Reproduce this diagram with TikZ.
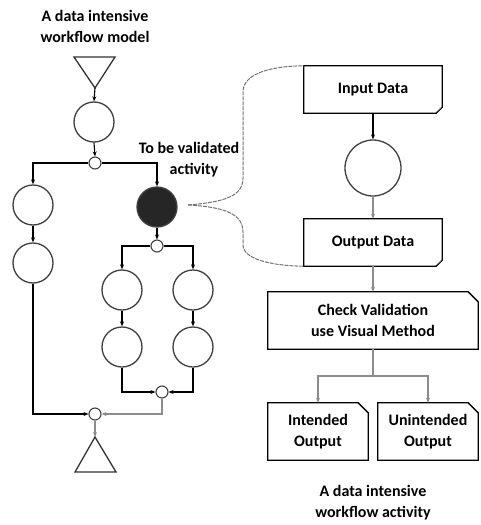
\documentclass[tikz,border=0pt]{standalone}
\usepackage{fontspec}
\setmainfont{Carlito}
\usetikzlibrary{arrows.meta,calc}
\begin{document}
\begin{tikzpicture}[x=1pt,y=-1pt,
  act/.style={circle,draw=black!75,line width=1.3pt,minimum size=40pt,inner sep=0pt},
  bigact/.style={act,minimum size=56pt},
  dark/.style={act,fill=black!85},
  junc/.style={circle,draw=black!75,line width=1.1pt,minimum size=12pt,inner sep=0pt,fill=white},
  flow/.style={line width=1.1pt,-{Stealth[length=5pt,width=4pt]}},
  gflow/.style={flow,draw=black!45},
  lbl/.style={font=\bfseries\fontsize{16}{21}\selectfont,align=center},
  boxn/.style={lbl,minimum width=#1,minimum height=47pt,inner sep=0pt},
  brace/.style={draw=black!55,line width=1pt,dash pattern=on 4pt off 1pt}
]
\useasboundingbox (0,0) rectangle (481,525);
% left workflow
\node[lbl] (title) at (95,26) {A data intensive\\workflow model};
\draw[line width=1.3pt,draw=black!80] (74,57) -- (115,57) -- (95,88) -- cycle;
\coordinate (t1) at (95,88);
\node[act] (c1) at (94,122) {};
\node[junc] (j1) at (95,163) {};
\node[act] (c3) at (33,205) {};
\node[dark] (dk) at (157,207) {};
\node[act] (c4) at (33,263) {};
\node[junc] (j2) at (157,246) {};
\node[act] (c5) at (122,290) {};
\node[act] (c6) at (193,290) {};
\node[act] (c7) at (122,347) {};
\node[act] (c8) at (193,347) {};
\node[junc] (j3) at (162,392) {};
\node[junc] (j4) at (95,414) {};
\coordinate (t2) at (95,437);
\draw[line width=1.3pt,draw=black!80] (95,437) -- (116,472) -- (75,472) -- cycle;
\node[lbl] (val) at (189,160) {To be validated\\\hspace*{10pt}activity};

\draw[flow] (t1) -- (c1.north);
\draw[flow] (c1.south) -- (j1.north);
\draw[flow] (j1.west) -| (c3.north);
\draw[flow] (j1.east) -| (dk.north);
\draw[flow] (c3.south) -- (c4.north);
\draw[flow] (dk.south) -- (j2.north);
\draw[flow] (j2.west) -| (c5.north);
\draw[flow] (j2.east) -| (c6.north);
\draw[flow] (c5.south) -- (c7.north);
\draw[flow] (c6.south) -- (c8.north);
\draw[flow] (c7.south) |- (j3.west);
\draw[flow] (c8.south) |- (j3.east);
\draw[gflow] (j3.south) |- (j4.east);
\draw[flow] (c4.south) |- (j4.west);
\draw[gflow] (j4.south) -- (t2);

% right activity
\node[boxn=138pt] (in) at (373,89.5) {Input Data};
\draw[line width=1.3pt] (in.north west) -- (in.north east) -- ($(in.south east)+(0,-6)$) -- ($(in.south east)+(-6,0)$) -- (in.south west) -- cycle;
\fill[black!55] ($(in.south east)+(0,-6)$) -- ($(in.south east)+(-6,0)$) -- ($(in.south east)+(-2,-5)$) -- cycle;
\node[bigact] (rc) at (373,168) {};
\node[boxn=138pt] (out) at (373,242.5) {Output Data};
\draw[line width=1.3pt] (out.north west) -- (out.north east) -- ($(out.south east)+(0,-6)$) -- ($(out.south east)+(-6,0)$) -- (out.south west) -- cycle;
\fill[black!55] ($(out.south east)+(0,-6)$) -- ($(out.south east)+(-6,0)$) -- ($(out.south east)+(-2,-5)$) -- cycle;
\node[boxn=210pt,minimum height=57pt] (chk) at (373,320.5) {Check Validation\\use Visual Method};
\draw[line width=1.3pt] (chk.north west) -- ($(chk.north east)+(-10,0)$) -- ($(chk.north east)+(0,10)$) -- (chk.south east) -- (chk.south west) -- cycle;
\node[boxn=100pt,minimum height=57pt] (io) at (318,431.5) {Intended\\Output};
\draw[line width=1.3pt] (io.north west) -- ($(io.north east)+(-10,0)$) -- ($(io.north east)+(0,10)$) -- (io.south east) -- (io.south west) -- cycle;
\node[boxn=100pt,minimum height=57pt] (uo) at (428,431.5) {Unintended\\Output};
\draw[line width=1.3pt] (uo.north west) -- ($(uo.north east)+(-10,0)$) -- ($(uo.north east)+(0,10)$) -- (uo.south east) -- (uo.south west) -- cycle;
\node[lbl] (title2) at (373,503) {A data intensive\\workflow activity};

\draw[flow] (in.south) -- (rc.north);
\draw[gflow] (rc.south) -- (out.north);
\draw[gflow] (out.south) -- (chk.north);
\coordinate (split) at (373,376);
\draw[gflow,-] (chk.south) -- (split);
\draw[gflow] (split) -| (io.north);
\draw[gflow] (split) -| (uo.north);

% brace
\coordinate (btip) at (188,205);
\draw[brace] (btip) .. controls (225,202) and (243,196) .. (243,178) -- (243,92) .. controls (243,72) and (275,66) .. (in.north west);
\draw[brace] (btip) .. controls (225,207) and (243,214) .. (243,232) -- (243,245) .. controls (243,260) and (275,266) .. (out.south west);
\end{tikzpicture}
\end{document}
